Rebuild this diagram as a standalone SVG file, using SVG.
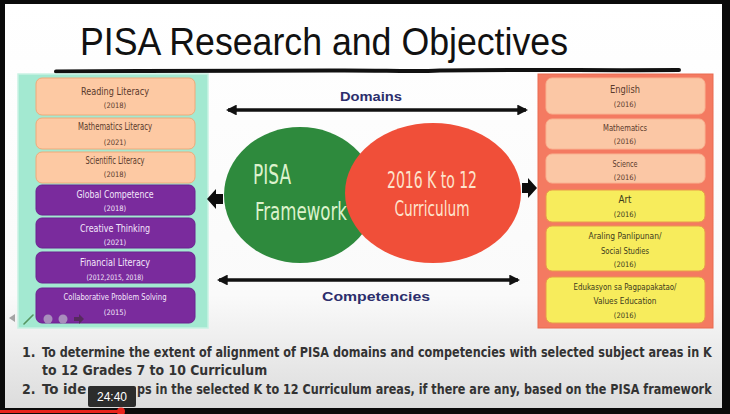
<svg xmlns="http://www.w3.org/2000/svg" width="730" height="414" viewBox="0 0 730 414">
  <defs>
    <linearGradient id="slideBg" x1="0" y1="0" x2="0" y2="1">
      <stop offset="0" stop-color="#ffffff"/>
      <stop offset="0.72" stop-color="#fafafa"/>
      <stop offset="1" stop-color="#dcdcdc"/>
    </linearGradient>
    <marker id="head" viewBox="0 0 10 10" refX="8" refY="5" markerWidth="3.2" markerHeight="3.2" orient="auto-start-reverse">
      <path d="M0,0 L10,5 L0,10 z" fill="#111"/>
    </marker>
    <style>
      .hand { font-family: "Liberation Sans Narrow", "DejaVu Sans Condensed", "Liberation Sans", sans-serif; text-anchor: middle; }
      .peach { fill: #fdc9a3; stroke: #f0a978; stroke-width: 1; }
      .purple { fill: #7a2b9d; stroke: #6a2290; stroke-width: 1; }
      .rpeach { fill: #fbc7a5; stroke: #f9b392; stroke-width: 1; }
      .yellow { fill: #f7ec5c; stroke: #e99a4a; stroke-width: 1; }
      .t-dark { fill: #5a3a2c; font-size: 10px; }
      .y-dark { fill: #5a3a2c; font-size: 7.5px; }
      .t-light { fill: #f3e6fb; font-size: 10px; }
      .y-light { fill: #f3e6fb; font-size: 7.5px; }
      .t-yel { fill: #3c3a1c; font-size: 10px; }
      .y-yel { fill: #3c3a1c; font-size: 7.5px; }
      .label { font-family: "Liberation Sans", Arial, sans-serif; font-weight: bold; font-size: 12px; fill: #2c2e6c; text-anchor: middle; }
      .objective { font-family: "DejaVu Sans Condensed", "Liberation Sans", sans-serif; font-weight: bold; font-size: 14px; fill: #333333; }
      .dbl { stroke: #111; stroke-width: 3.4; fill: none; marker-start: url(#head); marker-end: url(#head); }
    </style>
  </defs>

  <!-- video frame and slide -->
  <rect x="0" y="0" width="730" height="414" fill="#0a0a0a"/>
  <rect x="5" y="4" width="717" height="404" fill="url(#slideBg)"/>

  <!-- title -->
  <g id="title">
    <text x="80" y="55" font-family="'Liberation Sans', Arial, sans-serif" font-size="38" fill="#111" textLength="488" lengthAdjust="spacingAndGlyphs">PISA Research and Objectives</text>
    <path d="M56,71.5 C150,70.5 260,71 330,70.5 C380,70 410,72 440,70.5 C520,69.5 600,70.5 679,70" stroke="#111" stroke-width="4" fill="none" stroke-linecap="round"/>
  </g>

  <!-- PISA domains and competencies -->
  <g id="pisa-panel">
    <rect x="18" y="74" width="190" height="254" fill="#a3e9d1" stroke="#c9f2e3" stroke-width="1.5"/>
  </g>
  <g id="reading-literacy">
    <rect class="peach" x="36" y="78" width="159" height="37" rx="6"/>
    <text class="hand t-dark" x="115" y="95" textLength="68" lengthAdjust="spacingAndGlyphs">Reading Literacy</text>
    <text class="hand y-dark" x="115" y="108">(2018)</text>
  </g>
  <g id="mathematics-literacy">
    <rect class="peach" x="36" y="118" width="159" height="31" rx="6"/>
    <text class="hand t-dark" x="115" y="130" textLength="74" lengthAdjust="spacingAndGlyphs">Mathematics Literacy</text>
    <text class="hand y-dark" x="115" y="145">(2021)</text>
  </g>
  <g id="scientific-literacy">
    <rect class="peach" x="36" y="152" width="159" height="31" rx="6"/>
    <text class="hand t-dark" x="115" y="164" textLength="59" lengthAdjust="spacingAndGlyphs">Scientific Literacy</text>
    <text class="hand y-dark" x="115" y="177">(2018)</text>
  </g>
  <g id="global-competence">
    <rect class="purple" x="36" y="185" width="159" height="30" rx="6"/>
    <text class="hand t-light" x="115" y="198" textLength="77" lengthAdjust="spacingAndGlyphs">Global Competence</text>
    <text class="hand y-light" x="115" y="211">(2018)</text>
  </g>
  <g id="creative-thinking">
    <rect class="purple" x="36" y="218" width="159" height="30" rx="6"/>
    <text class="hand t-light" x="115" y="232" textLength="70" lengthAdjust="spacingAndGlyphs">Creative Thinking</text>
    <text class="hand y-light" x="115" y="245">(2021)</text>
  </g>
  <g id="financial-literacy">
    <rect class="purple" x="36" y="252" width="159" height="31" rx="6"/>
    <text class="hand t-light" x="115" y="266" textLength="70" lengthAdjust="spacingAndGlyphs">Financial Literacy</text>
    <text class="hand y-light" x="115" y="279.5" textLength="57" lengthAdjust="spacingAndGlyphs">(2012,2015, 2018)</text>
  </g>
  <g id="collaborative-problem-solving">
    <rect class="purple" x="36" y="288" width="159" height="35" rx="6"/>
    <text class="hand t-light" x="115" y="300" textLength="103" lengthAdjust="spacingAndGlyphs" style="font-size:9px">Collaborative Problem Solving</text>
    <text class="hand y-light" x="115" y="315">(2015)</text>
  </g>

  <!-- slideshow toolbar -->
  <g id="toolbar" opacity="0.75">
    <path d="M9,318 L15,314 L15,322 z" fill="#8a8a8a"/>
    <path d="M24,324 L33,315" stroke="#3b7a3b" stroke-width="1.6" stroke-linecap="round"/>
    <circle cx="48" cy="319" r="4.5" fill="#b9b0c8"/>
    <circle cx="63" cy="319" r="4.5" fill="#b9b0c8"/>
    <path d="M74,317 L79,317 L79,314 L84,319 L79,324 L79,321 L74,321 z" fill="#4a2a4a"/>
  </g>

  <!-- K to 12 curriculum subject areas -->
  <g id="curriculum-panel">
    <rect x="538" y="74" width="175" height="254" fill="#f47a61" stroke="#ea6a50" stroke-width="1"/>
  </g>
  <g id="english">
    <rect class="rpeach" x="546" y="78" width="159" height="36" rx="6"/>
    <text class="hand t-dark" x="625" y="93" textLength="30" lengthAdjust="spacingAndGlyphs">English</text>
    <text class="hand y-dark" x="625" y="107">(2016)</text>
  </g>
  <g id="mathematics">
    <rect class="rpeach" x="546" y="119" width="159" height="30" rx="6"/>
    <text class="hand t-dark" x="625" y="131" textLength="44" lengthAdjust="spacingAndGlyphs" style="font-size:9px">Mathematics</text>
    <text class="hand y-dark" x="625" y="143.5">(2016)</text>
  </g>
  <g id="science">
    <rect class="rpeach" x="546" y="154" width="159" height="29" rx="6"/>
    <text class="hand t-dark" x="625" y="167" textLength="25" lengthAdjust="spacingAndGlyphs" style="font-size:9px">Science</text>
    <text class="hand y-dark" x="625" y="179.5">(2016)</text>
  </g>
  <g id="art">
    <rect class="yellow" x="546" y="190" width="159" height="32" rx="6"/>
    <text class="hand t-yel" x="625" y="203" textLength="13" lengthAdjust="spacingAndGlyphs">Art</text>
    <text class="hand y-yel" x="625" y="216.5">(2016)</text>
  </g>
  <g id="araling-panlipunan">
    <rect class="yellow" x="546" y="226" width="159" height="45" rx="6"/>
    <text class="hand t-yel" x="625" y="238.5" textLength="73" lengthAdjust="spacingAndGlyphs" style="font-size:9px">Araling Panlipunan/</text>
    <text class="hand t-yel" x="625" y="254" textLength="48" lengthAdjust="spacingAndGlyphs" style="font-size:9px">Social Studies</text>
    <text class="hand y-yel" x="625" y="266.5">(2016)</text>
  </g>
  <g id="edukasyon-sa-pagpapakatao">
    <rect class="yellow" x="546" y="277" width="159" height="46" rx="6"/>
    <text class="hand t-yel" x="625" y="289.5" textLength="103" lengthAdjust="spacingAndGlyphs" style="font-size:9px">Edukasyon sa Pagpapakatao/</text>
    <text class="hand t-yel" x="625" y="303.5" textLength="63" lengthAdjust="spacingAndGlyphs" style="font-size:9px">Values Education</text>
    <text class="hand y-yel" x="625" y="317.5">(2016)</text>
  </g>

  <!-- overlapping frameworks -->
  <g id="pisa-framework">
    <ellipse cx="300" cy="195" rx="76" ry="68" fill="#2e8a3d"/>
    <text class="hand" x="272" y="184" font-size="27" fill="#dcf2cc" textLength="38" lengthAdjust="spacingAndGlyphs">PISA</text>
    <text class="hand" x="301" y="220" font-size="25" fill="#dcf2cc" textLength="92" lengthAdjust="spacingAndGlyphs">Framework</text>
  </g>
  <g id="k12-curriculum">
    <ellipse cx="433" cy="193" rx="88" ry="70" fill="#f04f39"/>
    <text class="hand" x="432" y="188" font-size="23" fill="#fde3cc" textLength="90" lengthAdjust="spacingAndGlyphs">2016 K to 12</text>
    <text class="hand" x="432" y="216" font-size="22" fill="#fde3cc" textLength="75" lengthAdjust="spacingAndGlyphs">Curriculum</text>
  </g>

  <!-- connectors -->
  <g id="connectors">
    <line class="dbl" x1="228" y1="110" x2="526" y2="110"/>
    <line class="dbl" x1="219" y1="280" x2="518" y2="280"/>
    <path d="M207,199 L216,189 L216,194 L223,194 L223,204 L216,204 L216,209 z" fill="#0d0d0d"/>
    <path d="M537,188 L528,178 L528,183 L522,183 L522,193 L528,193 L528,198 z" fill="#0d0d0d"/>
  </g>
  <g id="domains-label">
    <text class="label" x="371" y="101" textLength="62" lengthAdjust="spacingAndGlyphs">Domains</text>
  </g>
  <g id="competencies-label">
    <text class="label" x="376" y="301" textLength="108" lengthAdjust="spacingAndGlyphs">Competencies</text>
  </g>

  <!-- research objectives (horizontally condensed body text) -->
  <g id="objectives">
    <text class="objective" x="22" y="357">1.</text>
    <text class="objective" transform="translate(42,357) scale(0.85,1)" x="0" y="0" textLength="788" lengthAdjust="spacingAndGlyphs">To determine the extent of alignment of PISA domains and competencies with selected subject areas in  K</text>
    <text class="objective" transform="translate(42,375) scale(0.85,1)" x="0" y="0" textLength="265" lengthAdjust="spacingAndGlyphs">to 12 Grades 7 to 10 Curriculum</text>
    <text class="objective" x="22" y="394">2.</text>
    <text class="objective" transform="translate(42,394) scale(0.85,1)" x="0" y="0" textLength="52" lengthAdjust="spacingAndGlyphs">To ide</text>
    <text class="objective" transform="translate(137,394) scale(0.85,1)" x="0" y="0" textLength="676" lengthAdjust="spacingAndGlyphs">ps in the selected K to 12 Curriculum areas, if there are any, based on the PISA framework</text>
  </g>

  <!-- player overlay -->
  <g id="player">
    <rect x="0" y="410" width="121" height="3" fill="#e8231c"/>
    <circle cx="121" cy="411.5" r="4" fill="#e8231c"/>
    <rect x="88" y="386" width="48" height="21" rx="2" fill="#1c1c1c" opacity="0.92"/>
    <text x="112" y="401" font-family="'Liberation Sans', Arial, sans-serif" font-size="12" fill="#ffffff" text-anchor="middle">24:40</text>
  </g>
</svg>
